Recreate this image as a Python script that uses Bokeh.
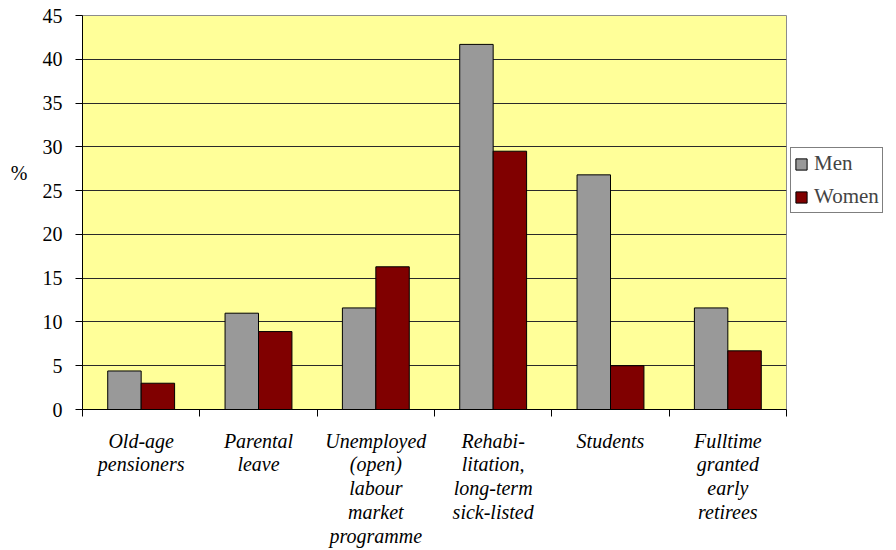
from bokeh.plotting import figure
from bokeh.models import ColumnDataSource, FixedTicker, Legend, LegendItem, Range1d
from bokeh.transform import dodge
from bokeh.embed import file_html
from bokeh.resources import INLINE

# Data
categories = [
    "Old-age\npensioners",
    "Parental\nleave",
    "Unemployed\n(open)\nlabour\nmarket\nprogramme",
    "Rehabi-\nlitation,\nlong-term\nsick-listed",
    "Students",
    "Fulltime\ngranted\nearly\nretirees",
]
men = [4.4, 11.0, 11.6, 41.7, 26.8, 11.6]
women = [3.0, 8.9, 16.3, 29.5, 5.0, 6.7]
y_ticks = [0, 5, 10, 15, 20, 25, 30, 35, 40, 45]

centers = [i + 0.5 for i in range(len(categories))]
source = ColumnDataSource(dict(x=centers, men=men, women=women))

SERIF = "Liberation Serif"

p = figure(
    frame_width=704, frame_height=394,
    x_range=Range1d(0, len(categories)), y_range=Range1d(0, 45),
    output_backend="svg", toolbar_location=None,
    min_border_left=82, min_border_right=110,
    min_border_top=15, min_border_bottom=141,
)
p.background_fill_color = "#FFFF99"
p.border_fill_color = "white"
p.outline_line_color = "#8c8c8c"
p.outline_line_width = 1

bar_w = 0.285
r_men = p.vbar(x=dodge("x", -bar_w / 2), top="men", width=bar_w, bottom=0,
               source=source, fill_color="#999999", line_color="black", line_width=1)
r_women = p.vbar(x=dodge("x", bar_w / 2), top="women", width=bar_w, bottom=0,
                 source=source, fill_color="#800000", line_color="black", line_width=1)

# grid
p.xgrid.visible = False
p.ygrid.ticker = FixedTicker(ticks=y_ticks)
p.ygrid.grid_line_color = "#2a2a2a"
p.ygrid.grid_line_width = 1

# y axis
p.yaxis.ticker = FixedTicker(ticks=y_ticks)
p.yaxis.axis_line_color = "black"
p.yaxis.major_tick_out = 7
p.yaxis.major_tick_in = 0
p.yaxis.minor_tick_out = 0
p.yaxis.minor_tick_in = 0
p.yaxis.major_label_text_font = SERIF
p.yaxis.major_label_text_font_style = "normal"
p.yaxis.major_label_text_font_size = "20px"
p.yaxis.major_label_text_color = "black"
p.yaxis.major_label_standoff = 13
# unit label, lifted above the axis middle by trailing blank lines
p.yaxis.axis_label = "%\n \n \n "
p.yaxis.axis_label_orientation = "horizontal"
p.yaxis.axis_label_text_font = SERIF
p.yaxis.axis_label_text_font_style = "normal"
p.yaxis.axis_label_text_font_size = "20px"
p.yaxis.axis_label_text_color = "black"
p.yaxis.axis_label_standoff = 12

# x axis: labels at category centres, separator ticks at boundaries
p.xaxis.ticker = FixedTicker(ticks=centers, minor_ticks=list(range(len(categories) + 1)))
p.xaxis.major_label_overrides = {c: lab for c, lab in zip(centers, categories)}
p.xaxis.axis_line_color = "black"
p.xaxis.major_tick_out = 0
p.xaxis.major_tick_in = 0
p.xaxis.minor_tick_out = 7
p.xaxis.minor_tick_in = 0
p.xaxis.minor_tick_line_color = "black"
p.xaxis.major_label_text_font = SERIF
p.xaxis.major_label_text_font_style = "italic"
p.xaxis.major_label_text_font_size = "20px"
p.xaxis.major_label_text_color = "black"
p.xaxis.major_label_text_line_height = 1.08
p.xaxis.major_label_standoff = 13

legend = Legend(
    items=[LegendItem(label="Men", renderers=[r_men]),
           LegendItem(label="Women", renderers=[r_women])],
    location=(4, 196),
    label_text_font=SERIF, label_text_font_size="21px",
    glyph_width=14, glyph_height=14, label_height=20,
    spacing=8, padding=3, margin=0,
    border_line_color="black", border_line_width=1,
    background_fill_color="white", background_fill_alpha=1,
    label_standoff=6,
)
p.add_layout(legend, "right")

open("out.html", "w").write(file_html(p, INLINE))
